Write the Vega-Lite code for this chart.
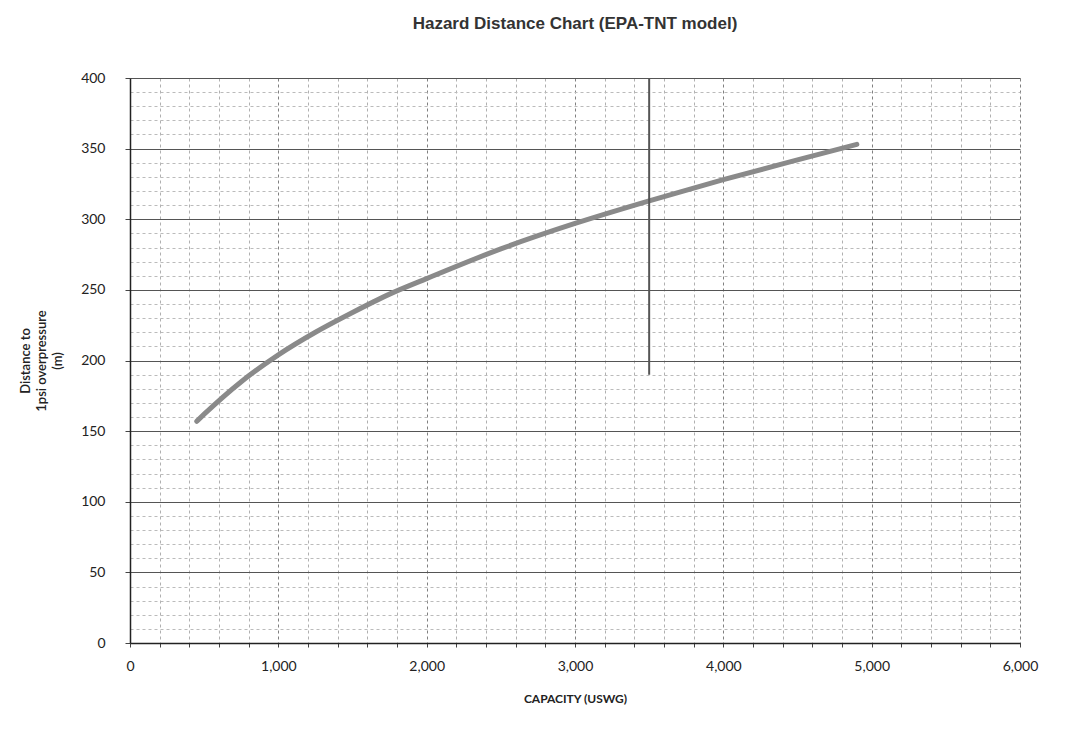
{
  "$schema": "https://vega.github.io/schema/vega-lite/v6.json",
  "width": 890,
  "height": 565,
  "autosize": {"type": "none"},
  "padding": {"left": 130, "top": 78, "right": 47, "bottom": 90},
  "background": "white",
  "title": {
    "text": "Hazard Distance Chart (EPA-TNT model)",
    "font": "Liberation Sans",
    "fontSize": 17,
    "fontWeight": "bold",
    "color": "#333333",
    "anchor": "middle",
    "offset": 38
  },
  "datasets": {
    "curve": [
      {"capacity": 450, "distance": 157},
      {"capacity": 500, "distance": 162},
      {"capacity": 750, "distance": 185},
      {"capacity": 1000, "distance": 204},
      {"capacity": 1250, "distance": 220},
      {"capacity": 1500, "distance": 234},
      {"capacity": 1750, "distance": 247},
      {"capacity": 2000, "distance": 258},
      {"capacity": 2500, "distance": 279},
      {"capacity": 3000, "distance": 297},
      {"capacity": 3500, "distance": 313},
      {"capacity": 4000, "distance": 328},
      {"capacity": 4500, "distance": 342},
      {"capacity": 4900, "distance": 353}
    ],
    "marker": [
      {"capacity": 3500, "low": 190, "high": 400}
    ]
  },
  "config": {
    "view": {"stroke": null},
    "axis": {
      "labelFont": "Lato",
      "titleFont": "Lato",
      "labelColor": "#222222",
      "titleColor": "#222222",
      "domainColor": "#222222",
      "domainWidth": 1.5,
      "tickColor": "#444444",
      "labelOverlap": false,
      "labelBound": false,
      "labelFlush": false,
      "tickCount": 100
    }
  },
  "layer": [
    {
      "data": {"name": "curve"},
      "mark": {"type": "line", "color": "#8a8a8a", "strokeWidth": 5, "strokeCap": "round", "interpolate": "monotone"},
      "encoding": {
        "x": {
          "field": "capacity",
          "type": "quantitative",
          "scale": {"domain": [0, 6000], "nice": false},
          "axis": {
            "title": "CAPACITY (USWG)",
            "titleFontSize": 12,
            "titleFontWeight": "bold",
            "titlePadding": 20,
            "tickCount": 100,
            "values": [0,200,400,600,800,1000,1200,1400,1600,1800,2000,2200,2400,2600,2800,3000,3200,3400,3600,3800,4000,4200,4400,4600,4800,5000,5200,5400,5600,5800,6000],
            "labelExpr": "datum.value % 1000 === 0 ? format(datum.value, ',') : ''",
            "labelFontSize": 14,
            "labelPadding": 12,
            "tickSize": 4,
            "grid": true,
            "gridDash": [3, 3],
            "gridColor": {"condition": {"test": "datum.value % 1000 === 0", "value": "#808080"}, "value": "#b0b0b0"},
            "gridWidth": 1
          }
        },
        "y": {
          "field": "distance",
          "type": "quantitative",
          "scale": {"domain": [0, 400], "nice": false},
          "axis": {
            "title": ["Distance to", "1psi overpressure", "(m)"],
            "titleFontSize": 13,
            "titleFontWeight": 600,
            "titleLineHeight": 16,
            "titlePadding": 16,
            "tickCount": 100,
            "values": [0,10,20,30,40,50,60,70,80,90,100,110,120,130,140,150,160,170,180,190,200,210,220,230,240,250,260,270,280,290,300,310,320,330,340,350,360,370,380,390,400],
            "labelExpr": "datum.value % 50 === 0 ? format(datum.value, ',') : ''",
            "labelFontSize": 14,
            "labelPadding": 20,
            "tickSize": 5,
            "tickOpacity": {"condition": {"test": "datum.value % 50 === 0", "value": 1}, "value": 0},
            "grid": true,
            "gridDash": {"condition": {"test": "datum.value % 50 === 0", "value": []}, "value": [3, 3]},
            "gridColor": {"condition": {"test": "datum.value % 50 === 0", "value": "#555555"}, "value": "#bbbbbb"},
            "gridWidth": {"condition": {"test": "datum.value % 50 === 0", "value": 1.2}, "value": 1}
          }
        }
      }
    },
    {
      "data": {"name": "marker"},
      "mark": {"type": "rule", "color": "#555555", "strokeWidth": 2},
      "encoding": {
        "x": {"field": "capacity", "type": "quantitative"},
        "y": {"field": "low", "type": "quantitative"},
        "y2": {"field": "high"}
      }
    }
  ]
}
